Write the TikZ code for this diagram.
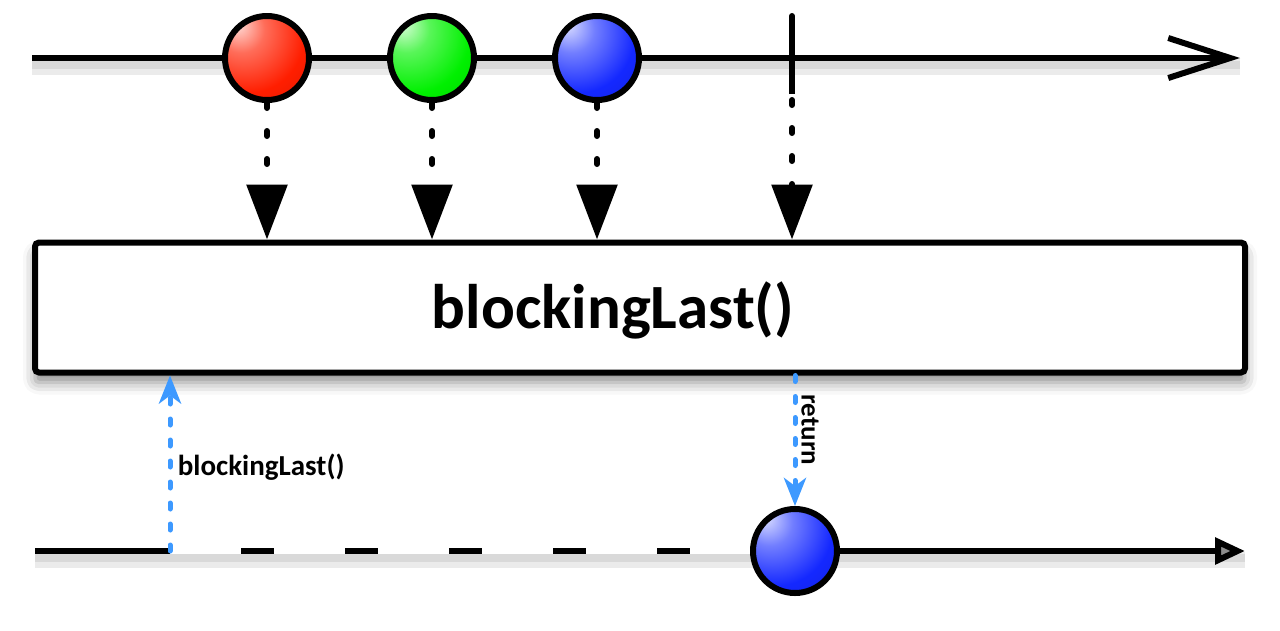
\documentclass[tikz,border=0pt]{standalone}
\usepackage{fontspec}
\setsansfont{Carlito}
\usetikzlibrary{arrows.meta,shadows.blur,positioning}
\definecolor{callblue}{RGB}{61,153,255}
\definecolor{marblered}{RGB}{255,30,0}
\definecolor{marblegreen}{RGB}{0,240,0}
\definecolor{marbleblue}{RGB}{20,40,255}

% glossy marbles, highlight up left
\pgfdeclareradialshading{redmarble}{\pgfpoint{-18bp}{20bp}}{color(0bp)=(white!85!marblered); color(14bp)=(white!35!marblered); color(34bp)=(marblered); color(56bp)=(marblered!85!black); color(75bp)=(marblered!55!black); color(100bp)=(marblered!50!black)}
\pgfdeclareradialshading{greenmarble}{\pgfpoint{-18bp}{20bp}}{color(0bp)=(white!85!marblegreen); color(14bp)=(white!35!marblegreen); color(34bp)=(marblegreen); color(56bp)=(marblegreen!85!black); color(75bp)=(marblegreen!55!black); color(100bp)=(marblegreen!50!black)}
\pgfdeclareradialshading{bluemarble}{\pgfpoint{-18bp}{20bp}}{color(0bp)=(white!85!marbleblue); color(14bp)=(white!40!marbleblue); color(34bp)=(marbleblue); color(56bp)=(marbleblue!85!black); color(75bp)=(marbleblue!55!black); color(100bp)=(marbleblue!50!black)}

\begin{document}
\begin{tikzpicture}[
    x=1pt,
    y=-1pt,
    font=\sffamily\bfseries,
    timeline/.style={
		draw=black,
		line width=6pt
	},
	softshadow/.style={
		draw=black,
		line width=16pt,
		opacity=0.08
	},
	marble/.style={
		circle,
		draw=black,
		line width=6pt,
		minimum size=84pt,
		inner sep=0pt
	},
	emit/.style={
		draw=black,
		line width=6pt,
		line cap=round,
		dash pattern=on 5pt off 23pt,
		-{Triangle[length=55pt,width=40pt]}
	},
	call/.style={
		draw=callblue,
		line width=5pt,
		line cap=round,
		dash pattern=on 6pt off 15pt,
		-{Stealth[length=28pt,width=22pt,inset=8pt]}
	},
	operator/.style={
		rectangle,
		draw=black,
		line width=6pt,
		rounded corners=4pt,
		fill=white,
		minimum width=1210pt,
		minimum height=130pt,
		blur shadow={shadow xshift=0pt,shadow yshift=-10pt,shadow blur radius=12pt,shadow opacity=45}
	}
  ]
\useasboundingbox (0,0) rectangle (1280,630);

% // source timeline
\coordinate (srcstart) at (32,58);
\coordinate (srcend) at (1240,58);
\draw [softshadow] ([yshift=-9pt]srcstart) -- ([yshift=-9pt]srcend);
\draw [softshadow, line width=8pt] ([yshift=-7pt]srcstart) -- ([yshift=-7pt]srcend);
\draw [timeline, -{Straight Barb[length=62pt,width=40pt]}] (srcstart) -- (srcend);

\node [marble, shading=redmarble] (red1) at (267,58) {};
\node [marble, shading=greenmarble] (green1) at (432,58) {};
\node [marble, shading=bluemarble] (blue1) at (597,58) {};
\coordinate (done1) at (792,58);
\draw [timeline] ([yshift=-36pt]done1) -- ([yshift=42pt]done1);

% // the operator
\node [operator] (op) at (640,307.5) {};
\node (optext) at (613,310) {\fontsize{63}{70}\selectfont blockingLast()};

\draw [emit] (red1.south) -- (red1 |- op.north);
\draw [emit] (green1.south) -- (green1 |- op.north);
\draw [emit] (blue1.south) -- (blue1 |- op.north);
\draw [emit] ([yshift=42pt]done1) -- (done1 |- op.north);

% // result timeline
\coordinate (resstart) at (35,551);
\coordinate (resend) at (1245,551);
\coordinate (waitstart) at (170,551);
\draw [softshadow] ([yshift=-9pt]resstart) -- ([yshift=-9pt]resend);
\draw [softshadow, line width=8pt] ([yshift=-7pt]resstart) -- ([yshift=-7pt]resend);
\draw [timeline, -{Triangle[length=30pt,width=26pt,fill=black!45]}] (resstart) -- (resend);
\node [marble, shading=bluemarble] (blue2) at (795,551) {};
\draw [draw=white, line width=6pt, dash pattern=on 71pt off 33pt] (waitstart) -- (blue2.west);

% // call and return
\draw [call] (waitstart) -- node [right, pos=0.48, xshift=2pt] {\fontsize{29}{32}\selectfont blockingLast()} (waitstart |- op.south);
\draw [call] (op.south -| blue2) -- (blue2.north);
\node [rotate=-90] (rettext) at (810,430) {\fontsize{27}{30}\selectfont return};

\end{tikzpicture}
\end{document}
